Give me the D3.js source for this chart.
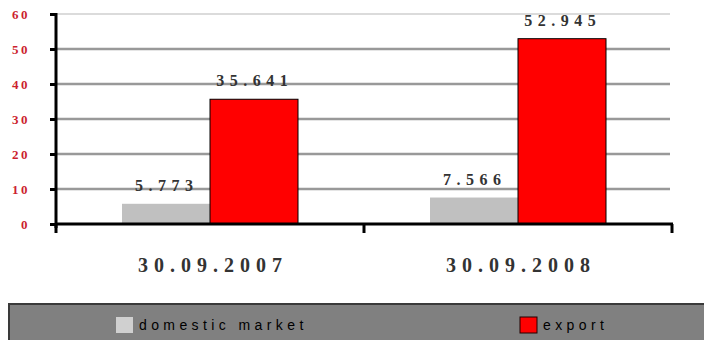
<!DOCTYPE html>
<html>
<head>
<meta charset="utf-8">
<script src="https://cdn.jsdelivr.net/npm/d3@7"></script>
<style>
  html, body { margin: 0; padding: 0; background: #ffffff; }
  svg { display: block; }
</style>
</head>
<body>
<svg id="chart" width="704" height="340"></svg>
<script>
// Sales split by market at the two reporting dates
const categories = ["30.09.2007", "30.09.2008"];
const seriesNames = ["domestic market", "export"];
const domesticValues = [5.773, 7.566];
const exportValues = [35.641, 52.945];
const yTicks = [0, 10, 20, 30, 40, 50, 60];
const seriesColors = ["#c0c0c0", "#ff0000"];

const svg = d3.select("#chart");
const plotLeft = 56, plotRight = 672, plotTop = 14, plotBottom = 224;
const serif = "'Liberation Serif', 'DejaVu Serif', serif";

const y = d3.scaleLinear().domain([0, 60]).range([plotBottom, plotTop]);
const x0 = d3.scaleBand().domain(categories).range([plotLeft, plotRight]).padding(0);
const x1 = d3.scaleBand().domain(seriesNames).range([66, x0.bandwidth() - 66]).padding(0);

// horizontal grid
svg.append("g").selectAll("line")
  .data(yTicks.filter(d => d > 0))
  .join("line")
  .attr("x1", plotLeft).attr("x2", plotRight - 2)
  .attr("y1", d => y(d)).attr("y2", d => y(d))
  .attr("stroke", d => d === 60 ? "#b8b8b8" : "#999999")
  .attr("stroke-width", d => d === 60 ? 1.2 : 2.4);

// bars
const rows = categories.map((c, i) => ({
  cat: c,
  vals: [
    { s: seriesNames[0], v: domesticValues[i], color: seriesColors[0] },
    { s: seriesNames[1], v: exportValues[i], color: seriesColors[1] }
  ]
}));

const groups = svg.append("g").selectAll("g")
  .data(rows).join("g")
  .attr("transform", d => `translate(${x0(d.cat)},0)`);

groups.selectAll("rect")
  .data(d => d.vals).join("rect")
  .attr("x", d => x1(d.s))
  .attr("width", x1.bandwidth())
  .attr("y", d => y(d.v))
  .attr("height", d => y(0) - y(d.v))
  .attr("fill", d => d.color)
  .attr("stroke", d => d.s === "export" ? "#000" : "none")
  .attr("stroke-width", 1);

// value labels (letter-spacing trails the last glyph, so shift back by half of it)
const valSpacing = 5.5;
groups.selectAll("text")
  .data(d => d.vals).join("text")
  .attr("x", d => x1(d.s) + x1.bandwidth() / 2 - 2 + valSpacing / 2)
  .attr("y", d => y(d.v) - 13)
  .attr("text-anchor", "middle")
  .attr("font-family", serif)
  .attr("font-weight", "bold")
  .attr("font-size", 16)
  .attr("letter-spacing", valSpacing)
  .attr("fill", "#333")
  .text(d => d3.format(".3f")(d.v));

// y axis
const yAxis = svg.append("g")
  .attr("transform", `translate(${plotLeft},0)`)
  .call(d3.axisLeft(y).tickValues(yTicks).tickSize(6).tickPadding(20));
yAxis.select(".domain").attr("stroke", "#000").attr("stroke-width", 3)
  .attr("d", `M0,${plotTop - 1}V${plotBottom + 4}`);
yAxis.selectAll(".tick line").attr("stroke", "#000").attr("stroke-width", 3);
yAxis.selectAll(".tick text")
  .attr("fill", "#cc1f2f")
  .attr("font-family", serif)
  .attr("font-weight", "bold")
  .attr("font-size", 13)
  .attr("letter-spacing", 2.5);

// x axis line with ticks on group boundaries
svg.append("line")
  .attr("x1", plotLeft).attr("x2", plotRight + 1)
  .attr("y1", plotBottom).attr("y2", plotBottom)
  .attr("stroke", "#000").attr("stroke-width", 3);
const bounds = categories.map(c => x0(c)).concat([x0.range()[1]]);
svg.append("g").selectAll("line")
  .data(bounds).join("line")
  .attr("x1", d => d).attr("x2", d => d)
  .attr("y1", plotBottom).attr("y2", plotBottom + 9)
  .attr("stroke", "#000").attr("stroke-width", 3);

const catSpacing = 6;
svg.append("g").selectAll("text")
  .data(categories).join("text")
  .attr("x", d => x0(d) + x0.bandwidth() / 2 + catSpacing / 2)
  .attr("y", 272)
  .attr("text-anchor", "middle")
  .attr("font-family", serif)
  .attr("font-weight", "bold")
  .attr("font-size", 20)
  .attr("letter-spacing", catSpacing)
  .attr("fill", "#333")
  .text(d => d);

// legend bar
const legend = svg.append("g");
legend.append("rect")
  .attr("x", 9).attr("y", 304).attr("width", 710).attr("height", 50)
  .attr("fill", "#808080").attr("stroke", "#3a3a3a").attr("stroke-width", 2);
const legendX = [116, 520];
const items = legend.selectAll("g.item")
  .data(seriesNames).join("g")
  .attr("class", "item")
  .attr("transform", (d, i) => `translate(${legendX[i]},317)`);
items.append("rect")
  .attr("width", 17).attr("height", 16)
  .attr("fill", (d, i) => i === 0 ? "#d0d0d0" : seriesColors[i])
  .attr("stroke", (d, i) => i === 1 ? "#200" : "none");
items.append("text")
  .attr("x", 23).attr("y", 13)
  .attr("font-family", "'Liberation Sans', Arial, sans-serif")
  .attr("font-size", 14)
  .attr("letter-spacing", 4.4)
  .attr("fill", "#000")
  .text(d => d);
</script>
</body>
</html>
